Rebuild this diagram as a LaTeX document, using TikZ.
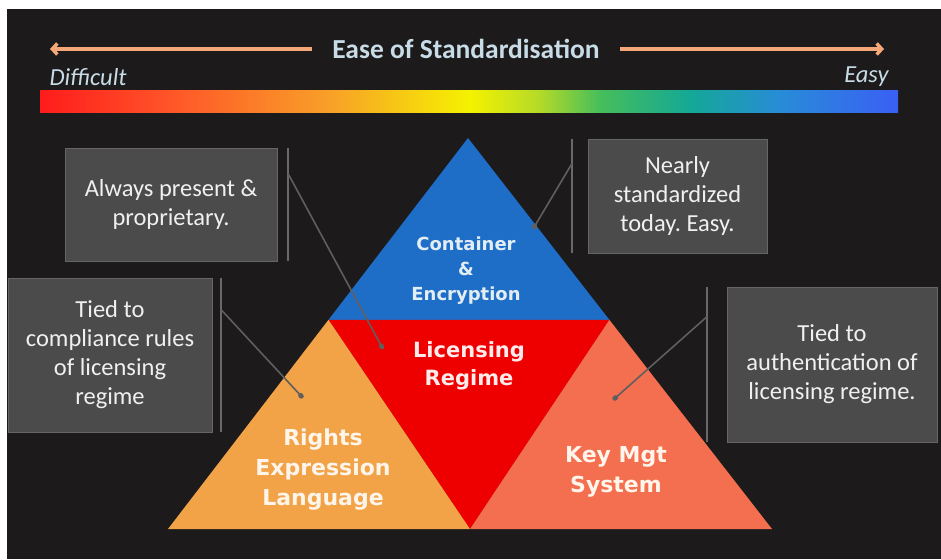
\documentclass[tikz,border=0pt]{standalone}
\usepackage{fontspec}
\setmainfont{Carlito}
\newfontfamily\labelfont{DejaVu Sans}
\usepackage{tikz}
\usetikzlibrary{arrows.meta, calc}
\frenchspacing
\definecolor{BGBlack}{RGB}{28,26,26}
\definecolor{BoxGray}{RGB}{75,75,75}
\definecolor{BarGray}{RGB}{105,105,105}
\definecolor{LinkGray}{RGB}{95,95,95}
\definecolor{TitleBlue}{RGB}{200,220,232}
\definecolor{ArrOrange}{RGB}{244,168,120}
\definecolor{TriBlue}{RGB}{30,110,200}
\definecolor{TriRed}{RGB}{238,0,0}
\definecolor{TriOrange}{RGB}{242,163,72}
\definecolor{TriSalmon}{RGB}{244,110,80}
\definecolor{gRed}{RGB}{255,28,28}
\definecolor{gOrRed}{RGB}{255,85,40}
\definecolor{gOrange}{RGB}{248,160,40}
\definecolor{gYellow}{RGB}{245,242,0}
\definecolor{gLime}{RGB}{180,218,40}
\definecolor{gGreen}{RGB}{70,190,90}
\definecolor{gTeal}{RGB}{20,168,150}
\definecolor{gSky}{RGB}{40,140,215}
\definecolor{gBlue}{RGB}{58,95,245}

\begin{document}
\begin{tikzpicture}[x=1pt, y=-1pt,
          note/.style={rectangle, fill=BoxGray, draw=BoxGray!85!white, text=white!94!black,
                       font=\fontsize{24.5}{29}\selectfont, align=center, inner sep=2pt},
          tri/.style={font=\labelfont\bfseries\fontsize{22}{30}\selectfont, align=center},
          accent/.style={draw=BarGray, line width=2pt},
          link/.style={draw=LinkGray, line width=1.6pt, -{Circle[length=6pt, width=5pt]}},
          harr/.style={draw=ArrOrange, line width=3.5pt, -{Straight Barb[length=5pt, width=11pt]}}
        ]
        \useasboundingbox (0,0) rectangle (941,559);
        \fill[white] (0,0) rectangle (941,559);
        \fill[BGBlack] (7,9) rectangle (941,559);

        % Title and scale
        \node[font=\bfseries\fontsize{27.5}{30}\selectfont, TitleBlue, inner xsep=20pt] (ttl) at (466,49)
              {Ease of Standardisation};
        \coordinate (lend) at (50,49);
        \coordinate (rend) at (884,49);
        \draw[harr] (ttl.west) -- (lend);
        \draw[harr] (ttl.east) -- (rend);
        \node[font=\itshape\fontsize{24.5}{26}\selectfont, TitleBlue, anchor=west] (hard) at (46,77) {Difficult};
        \node[font=\itshape\fontsize{24.5}{26}\selectfont, TitleBlue, anchor=east] (easy) at (892,77) {Easy};

        \foreach \xa/\xb/\ca/\cb in {40/170/gRed/gOrRed, 169.5/330/gOrRed/gOrange,
                                     329.5/470/gOrange/gYellow, 469.5/540/gYellow/gLime,
                                     539.5/600/gLime/gGreen, 599.5/690/gGreen/gTeal,
                                     689.5/780/gTeal/gSky, 779.5/898/gSky/gBlue} {
          \fill[left color=\ca, right color=\cb] (\xa,91) rectangle (\xb,113);
        }

        % Pyramid
        \coordinate (A) at (468,138);
        \coordinate (L) at (168,529);
        \coordinate (R) at (772,529);
        \coordinate (M) at (470,529);
        \coordinate (P) at ($(A)!.465!(L)$);
        \coordinate (Q) at ($(A)!.465!(R)$);
        \fill[TriBlue]   (A) -- (P) -- (Q) -- cycle;
        \fill[TriRed]    (P) -- (Q) -- (M) -- cycle;
        \fill[TriOrange] (L) -- (P) -- (M) -- cycle;
        \fill[TriSalmon] (M) -- (Q) -- (R) -- cycle;

        \node[tri, font=\labelfont\bfseries\fontsize{18}{25}\selectfont, text=TitleBlue!50!white] (cont) at (466,271)
              {Container\\\&\\Encryption};
        \node[tri, text=white!92!red, font=\labelfont\bfseries\fontsize{21}{28}\selectfont] (lic) at (469,366)
              {Licensing\\Regime};
        \node[tri, text=white!92!orange] (rel) at (323,470)
              {Rights\\Expression\\Language};
        \node[tri, text=white!92!orange] (kms) at (616,472)
              {Key Mgt\\System};

        % Callouts
        \node[note, minimum width=212pt, minimum height=113pt] (always) at (171,204.5)
              {Always present \&\\proprietary.};
        \node[note, minimum width=204pt, minimum height=154pt] (comply) at (110,355)
              {Tied to\\compliance rules\\of licensing\\regime};
        \node[note, minimum width=179pt, minimum height=114pt] (nearly) at (677.5,196)
              {Nearly\\standardized\\today. Easy.};
        \node[note, minimum width=210pt, minimum height=155pt] (auth) at (832,364.5)
              {Tied to\\authentication of\\licensing regime.};

        \draw[accent] ([xshift=11pt]always.north east) -- ([xshift=11pt]always.south east);
        \draw[accent] ([xshift=9pt]comply.north east) -- ([xshift=9pt]comply.south east);
        \draw[accent] ([xshift=-16pt]nearly.north west) -- ([xshift=-16pt]nearly.south west);
        \draw[accent] ([xshift=-20pt]auth.north west) -- ([xshift=-20pt]auth.south west);

        \coordinate (t1) at (383,349);
        \coordinate (t2) at (303,398);
        \coordinate (t3) at (533,229);
        \coordinate (t4) at (613,400);
        \draw[link] ([xshift=11pt, yshift=-26pt]always.north east) -- (t1);
        \draw[link] ([xshift=9pt, yshift=-32pt]comply.north east) -- (t2);
        \draw[link] ([xshift=-16pt, yshift=-25pt]nearly.north west) -- (t3);
        \draw[link] ([xshift=-20pt, yshift=-30pt]auth.north west) -- (t4);
      \end{tikzpicture}
\end{document}
